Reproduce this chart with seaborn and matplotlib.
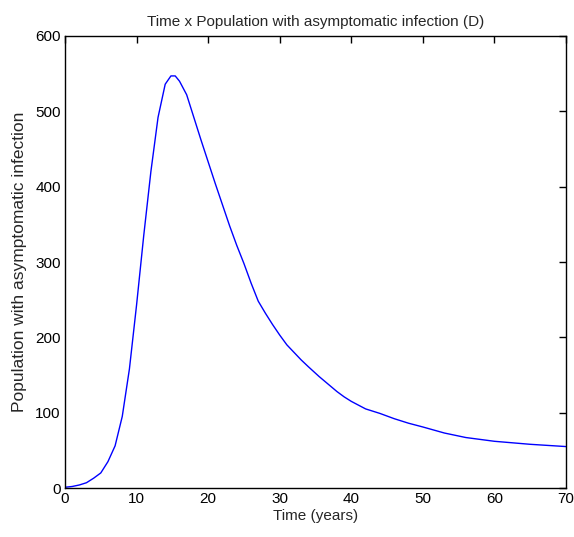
import pandas as pd
import matplotlib
matplotlib.use('Agg')
import matplotlib.pyplot as plt
import seaborn as sns

# values
time_years = [0, 1, 2, 3, 4, 5, 6, 7, 8, 9, 10, 11, 12, 13, 14, 14.8, 15.4, 16, 17, 18, 19, 20,
              21, 22, 23, 24, 25, 26, 27, 28, 29, 30, 31, 32, 33, 34, 35.5, 37, 38, 39, 40,
              42, 44, 46, 48, 50, 53, 56, 60, 65, 70]
infected = [1, 2, 4, 7, 13, 20, 35, 56, 95, 158, 243, 335, 420, 492, 536, 547, 547, 540, 522, 492, 462, 433,
            404, 376, 348, 322, 298, 272, 248, 232, 217, 203, 190, 180, 170, 161, 148, 136, 128, 121, 115,
            105, 99, 92, 86, 81, 73, 67, 62, 58, 55]
x_ticks = [0, 10, 20, 30, 40, 50, 60, 70]
y_ticks = [0, 100, 200, 300, 400, 500, 600]

df = pd.DataFrame({'t': time_years, 'D': infected})

sns.set_style('white')
plt.rcParams['font.family'] = ['Liberation Sans Narrow', 'Liberation Sans', 'DejaVu Sans']

fig = plt.figure(figsize=(5.74, 5.37), dpi=100)
ax = fig.add_axes([65 / 574, 1 - 488 / 537, 501 / 574, 452 / 537])

sns.lineplot(data=df, x='t', y='D', color='#0000ff', linewidth=1.0, ax=ax)

ax.set_xlim(0, 70)
ax.set_ylim(0, 600)
ax.set_xticks(x_ticks)
ax.set_yticks(y_ticks)
ax.tick_params(direction='in', length=5, width=1, top=True, right=True,
               labelsize=11, colors='black', pad=3)
for s in ax.spines.values():
    s.set_color('black')
    s.set_linewidth(1)
    s.set_visible(True)

ax.set_title('Time x Population with asymptomatic infection (D)', fontsize=11, pad=7)
ax.set_xlabel('Time (years)', fontsize=11, labelpad=2)
ax.set_ylabel('Population with asymptomatic infection', fontsize=12.5, labelpad=6)

plt.savefig('out.png', dpi=100)
